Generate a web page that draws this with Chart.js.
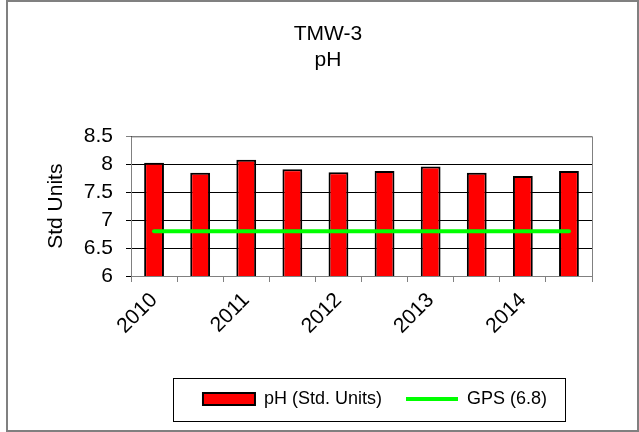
<!DOCTYPE html>
<html>
<head>
<meta charset="utf-8">
<script src="https://cdn.jsdelivr.net/npm/chart.js@4"></script>
<style>
    html, body { margin: 0; padding: 0; background: #fff; }
    #wrap { width: 639px; height: 432px; position: relative; }
</style>
</head>
<body>
<div id="wrap"><canvas id="phChart"></canvas></div>
<script>
// Sampling events (labels only on the first event of each year)
const categories = ['2010', '', '2011', '', '2012', '', '2013', '', '2014', ''];
const phValues = [8.03, 7.85, 8.08, 7.91, 7.86, 7.88, 7.96, 7.85, 7.79, 7.88];
const gpsValues = [6.8, 6.8, 6.8, 6.8, 6.8, 6.8, 6.8, 6.8, 6.8, 6.8];
const yTicks = [6, 6.5, 7, 7.5, 8, 8.5];

const FONT = "'Liberation Sans', Arial, sans-serif";
const LEGEND_SIZE = 18;
const LEGEND_PAD = 24;
const SWATCH_W = 52;

// Boxes around the whole chart, the plot area and the legend
const framePlugin = {
    id: 'frames',
    afterUpdate(chart) {
        // Excel centres title and legend on the whole frame, not the plot
        const tb = chart.titleBlock;
        tb.left += 10;
        tb.right += 10;
        const lg = chart.legend;
        lg.left += 57;
        lg.right += 57;
        if (lg.adjustHitBoxes) lg.adjustHitBoxes();
    },
    beforeDatasetsDraw(chart) {
        const ctx = chart.ctx;
        const a = chart.chartArea;
        ctx.save();
        ctx.strokeStyle = '#808080';
        ctx.lineWidth = 1;
        ctx.strokeRect(a.left + 0.5, a.top + 0.5, a.right - a.left, a.bottom - a.top);
        ctx.restore();
    },
    afterDraw(chart) {
        const ctx = chart.ctx;
        ctx.save();
        ctx.strokeStyle = '#808080';
        ctx.lineWidth = 2;
        ctx.strokeRect(7, 1, 631, 430);

        // box around the legend, worked out from the legend's own layout
        const lg = chart.legend;
        ctx.font = LEGEND_SIZE + 'px ' + FONT;
        const widths = chart.data.datasets.map(d =>
            SWATCH_W + LEGEND_SIZE / 2 + ctx.measureText(d.label).width);
        const lineW = widths.reduce((s, w) => s + w + LEGEND_PAD, 0);
        const start = (lg.left + lg.right) / 2 - lineW / 2 + LEGEND_PAD / 2;
        const end = start + lineW - LEGEND_PAD;
        const cy = lg.top + LEGEND_PAD + LEGEND_SIZE / 2;
        const bx = Math.round(start - 30);
        ctx.lineWidth = 1;
        ctx.strokeStyle = '#000';
        ctx.strokeRect(bx + 0.5, Math.round(cy - 21.5) + 0.5, Math.round(end + 18) - bx, 43);
        ctx.restore();
    }
};

const ctx = document.getElementById('phChart').getContext('2d');

new Chart(ctx, {
    type: 'bar',
    data: {
        labels: categories,
        datasets: [{
            type: 'bar',
            label: 'pH (Std. Units)',
            data: phValues,
            backgroundColor: '#ff0000',
            borderColor: '#000000',
            borderWidth: 2,
            barPercentage: 0.43,
            categoryPercentage: 1,
            pointStyle: 'rect',
            order: 1
        }, {
            type: 'line',
            label: 'GPS (6.8)',
            data: gpsValues,
            borderColor: '#00ff00',
            backgroundColor: '#00ff00',
            borderWidth: 4,
            borderCapStyle: 'round',
            pointRadius: 0,
            pointStyle: 'line',
            order: 0
        }]
    },
    options: {
        responsive: true,
        maintainAspectRatio: false,
        animation: false,
        layout: {
            padding: { left: 44, right: 47, top: 0, bottom: 14 }
        },
        scales: {
            x: {
                offset: true,
                grid: {
                    offset: true,
                    drawOnChartArea: false,
                    tickLength: 6,
                    color: '#808080'
                },
                border: { color: '#000', width: 1 },
                ticks: {
                    autoSkip: false,
                    maxRotation: 45,
                    minRotation: 45,
                    color: '#000',
                    padding: 6,
                    font: { family: FONT, size: 21 }
                },
                afterFit(scale) { scale.height = 90; }
            },
            y: {
                min: yTicks[0],
                max: yTicks[yTicks.length - 1],
                grid: {
                    color: ctx => (ctx.tick && ctx.tick.value === 8.5) ? '#808080' : '#000',
                    tickLength: 5
                },
                border: { color: '#000', width: 1 },
                ticks: {
                    stepSize: 0.5,
                    autoSkip: false,
                    padding: 13,
                    color: '#000',
                    font: { family: FONT, size: 21 },
                    callback: v => String(v)
                },
                title: {
                    display: true,
                    text: 'Std Units',
                    color: '#000',
                    padding: 0,
                    font: { family: FONT, size: 21 }
                },
                afterFit(scale) { scale.width = 87; }
            }
        },
        plugins: {
            title: {
                display: true,
                text: ['TMW-3', 'pH'],
                color: '#000',
                font: { family: FONT, size: 21, weight: 'normal' },
                padding: { top: 22, bottom: 64 }
            },
            legend: {
                position: 'bottom',
                labels: {
                    usePointStyle: true,
                    pointStyleWidth: SWATCH_W,
                    boxHeight: 12,
                    padding: LEGEND_PAD,
                    color: '#000',
                    font: { family: FONT, size: LEGEND_SIZE },
                    sort: (a, b) => a.datasetIndex - b.datasetIndex
                }
            },
            tooltip: { enabled: false }
        }
    },
    plugins: [framePlugin]
});
</script>
</body>
</html>
